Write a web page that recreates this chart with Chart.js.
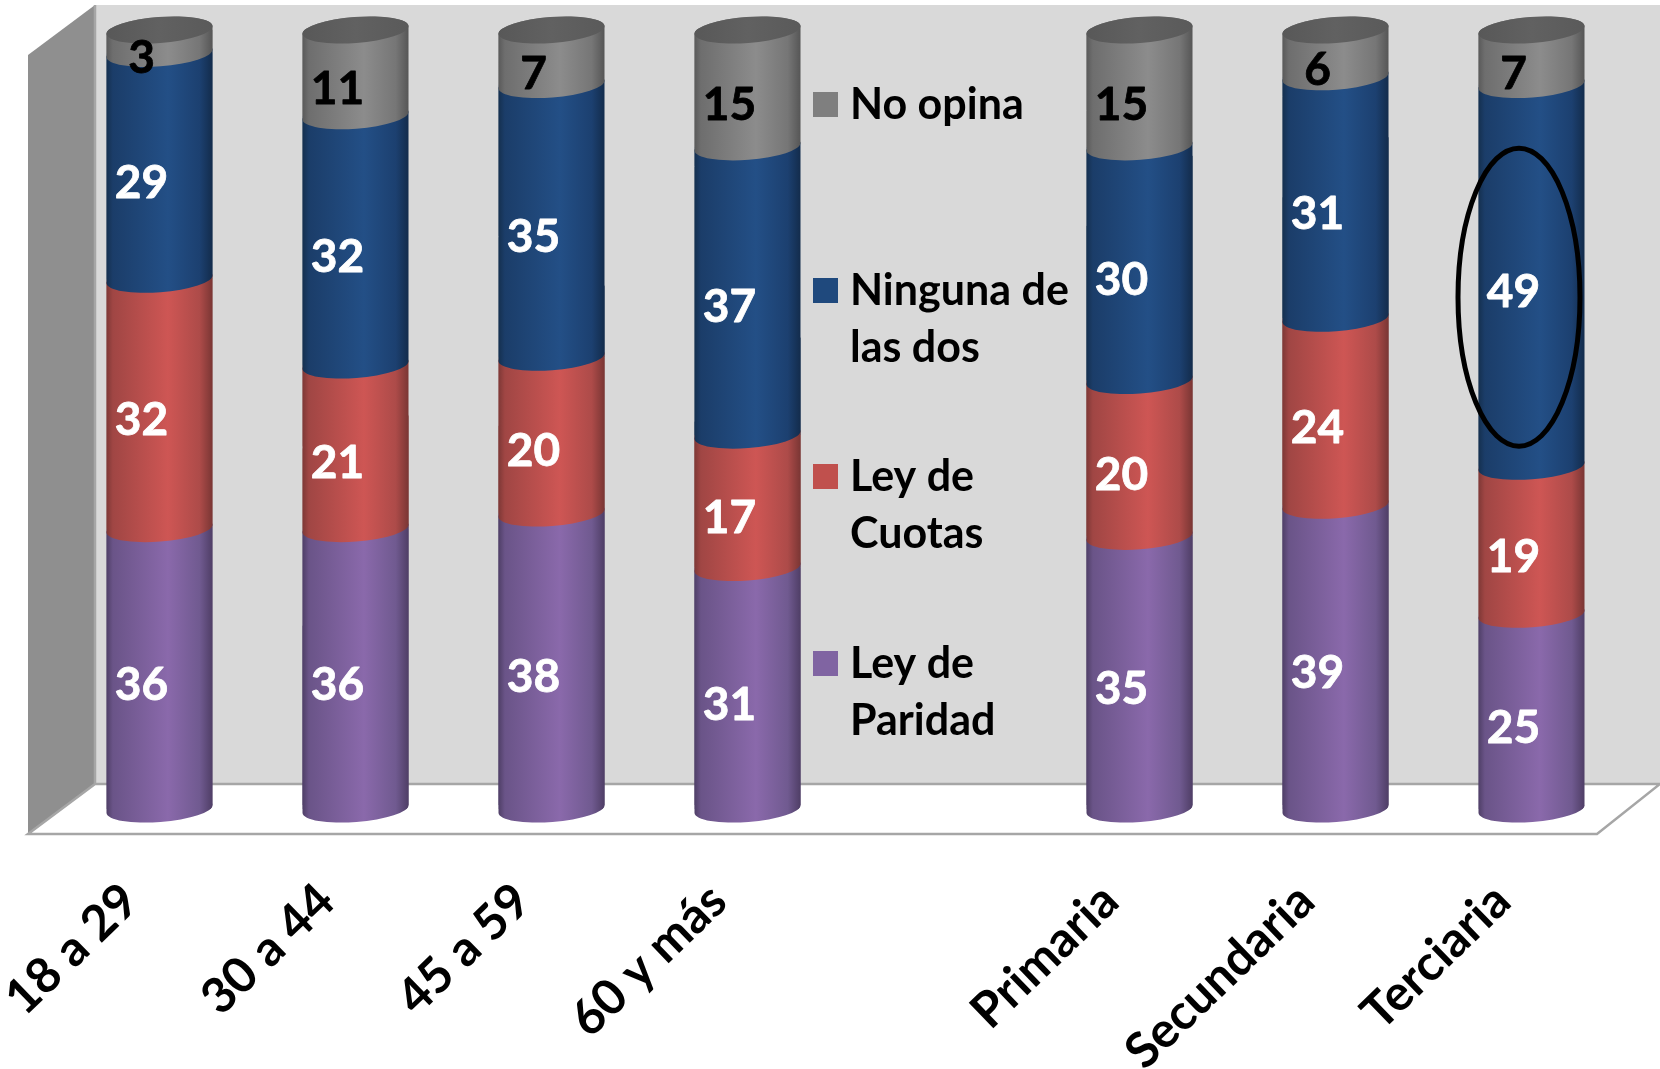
<!DOCTYPE html>
<html><head><meta charset="utf-8">
<style>html,body{margin:0;padding:0;background:#fff}canvas{display:block}</style>
<script src="https://cdn.jsdelivr.net/npm/chart.js@4/dist/chart.umd.min.js"></script>
</head><body><canvas id="c" width="1660" height="1069"></canvas>
<script>
const categories = ['18 a 29','30 a 44','45 a 59','60 y más','','Primaria','Secundaria','Terciaria'];
const leyParidad = [36,36,38,31,null,35,39,25];
const leyCuotas  = [32,21,20,17,null,20,24,19];
const ninguna    = [29,32,35,37,null,30,31,49];
const noOpina    = [3,11,7,15,null,15,6,7];
const legendRows = [
  {lines:['No opina'], color:'#7f7f7f', y:104},
  {lines:['Ninguna de','las dos'], color:'#1f497d', y:290},
  {lines:['Ley de','Cuotas'], color:'#c0504d', y:476},
  {lines:['Ley de','Paridad'], color:'#8064a2', y:663}
];
const FONT = 'Lato, Carlito, sans-serif';
const TILT = 4, RY = 13;

function grad(stops){
  return (ctx)=>{
    const ch = ctx.chart, xs = ch.scales.x;
    if(!xs || !ch.chartArea || ctx.dataIndex===undefined) return stops[2];
    const c = xs.getPixelForValue(ctx.dataIndex), hw = 53;
    const g = ch.ctx.createLinearGradient(c-hw,0,c+hw,0);
    g.addColorStop(0,stops[0]); g.addColorStop(0.06,stops[1]);
    g.addColorStop(0.58,stops[2]);
    g.addColorStop(0.88,stops[3]); g.addColorStop(1,stops[4]);
    return g;
  };
}
function tiltedBand(c,x,hw,top,bot){
  const rx = Math.hypot(hw,TILT), rot = Math.atan2(-TILT,hw);
  c.beginPath();
  c.ellipse(x,bot,rx,RY,rot,0,Math.PI,false);
  c.ellipse(x,top,rx,RY,rot,Math.PI,Math.PI*2,false);
  c.closePath();
}
const scene = {
  id:'scene',
  beforeDraw(chart){
    const c = chart.ctx; c.save();
    c.fillStyle='#ffffff'; c.fillRect(0,0,1660,1069);
    c.fillStyle='#d9d9d9'; c.fillRect(95,5,1565,779);
    c.fillStyle='#8f8f8f'; c.beginPath(); c.moveTo(28,55); c.lineTo(95,5); c.lineTo(95,784); c.lineTo(28,834); c.closePath(); c.fill();
    c.strokeStyle='#a6a6a6'; c.lineWidth=2.5; c.beginPath();
    c.moveTo(95,5); c.lineTo(95,784); c.lineTo(1660,784); c.lineTo(1597,834); c.lineTo(28,834); c.lineTo(95,784); c.stroke();
    c.restore();
  },
  beforeDatasetsDraw(chart){
    const c = chart.ctx, ys = chart.scales.y, xs = chart.scales.x;
    c.save(); c.beginPath();
    const path = new Path2D();
    categories.forEach((l,i)=>{
      if(!l) return;
      const x = xs.getPixelForValue(i), hw=53, rx=Math.hypot(hw,TILT), rot=Math.atan2(-TILT,hw);
      path.ellipse(x,ys.getPixelForValue(0),rx,RY,rot,0,Math.PI,false);
      path.ellipse(x,ys.getPixelForValue(100),rx,RY,rot,Math.PI,Math.PI*2,false);
      path.closePath();
    });
    c.clip(path);
  },
  afterDatasetsDraw(chart){
    const c = chart.ctx; c.restore(); c.save();
    const metas = chart.data.datasets.map((d,i)=>chart.getDatasetMeta(i));
    categories.forEach((l,i)=>{
      if(!l) return;
      metas.forEach((m)=>{
        const el = m.data[i];
        c.fillStyle = el.options.backgroundColor;
        tiltedBand(c,el.x,el.width/2,el.y,el.base); c.fill();
      });
      const top = metas[3].data[i], hw = top.width/2;
      const g = c.createLinearGradient(top.x-hw,0,top.x+hw,0);
      g.addColorStop(0,'#585858'); g.addColorStop(.5,'#616161'); g.addColorStop(1,'#5a5a5a');
      c.fillStyle=g;
      c.beginPath(); c.ellipse(top.x,top.y,Math.hypot(hw,TILT),RY,Math.atan2(-TILT,hw),0,Math.PI*2); c.fill();
    });
    // value labels
    c.textAlign='center'; c.textBaseline='middle'; c.lineJoin='round';
    c.font='bold 46px '+FONT;
    metas.forEach((m,di)=>{
      c.fillStyle = di===3 ? '#000000' : '#ffffff';
      c.strokeStyle = c.fillStyle; c.lineWidth=0.8;
      m.data.forEach((el,i)=>{
        const v = chart.data.datasets[di].data[i];
        if(v==null) return;
        c.fillText(String(v), el.x-18, (el.y+el.base)/2+16.5);
        c.strokeText(String(v), el.x-18, (el.y+el.base)/2+16.5);
      });
    });
    // legend
    c.textAlign='left';
    c.font='bold 43px '+FONT;
    legendRows.forEach(r=>{
      c.fillStyle=r.color; c.fillRect(813,r.y-12,25,25);
      c.fillStyle='#000';
      r.lines.forEach((t,k)=>c.fillText(t,850,r.y+1+k*57));
    });
    // highlight oval
    const xs = chart.scales.x, ys = chart.scales.y;
    c.strokeStyle='#000'; c.lineWidth=5;
    c.beginPath();
    c.ellipse(xs.getPixelForValue(7)-12.5, ys.getPixelForValue(65.7), 61, 149, 0, 0, Math.PI*2);
    c.stroke();
    c.restore();
  }
};
new Chart(document.getElementById('c'),{
  type:'bar',
  data:{labels:categories,datasets:[
    {label:'Ley de Paridad',data:leyParidad,backgroundColor:grad(['#4f3f67','#6a5488','#8a69ab','#705a90','#4f3e66']),clip:false},
    {label:'Ley de Cuotas',data:leyCuotas,backgroundColor:grad(['#7e3836','#a04644','#ce5654','#ad4b49','#7a3634']),clip:false},
    {label:'Ninguna de las dos',data:ninguna,backgroundColor:grad(['#15304f','#1b3d69','#234f86','#1c4070','#132c4c']),clip:false},
    {label:'No opina',data:noOpina,backgroundColor:grad(['#5a5a5a','#6e6e6e','#8c8c8c','#767676','#565656']),clip:false}
  ]},
  options:{
    responsive:false,animation:false,
    devicePixelRatio:1,
    layout:{autoPadding:false,padding:{left:61.5,right:30.5,top:30,bottom:0}},
    plugins:{legend:{display:false},tooltip:{enabled:false},title:{display:false}},
    datasets:{bar:{barPercentage:106/196,categoryPercentage:1,borderWidth:0}},
    scales:{
      x:{stacked:true,offset:true,
        afterFit(s){s.height=260;s.paddingLeft=0;s.paddingRight=0;},
        grid:{display:false,drawTicks:false},border:{display:false},
        ticks:{autoSkip:false,minRotation:44,maxRotation:44,padding:63,labelOffset:-29,color:'#000',
          font:{family:FONT,size:49,weight:'bold'}}},
      y:{stacked:true,display:false,min:0,max:100}
    }
  },
  plugins:[scene]
});
</script></body></html>
